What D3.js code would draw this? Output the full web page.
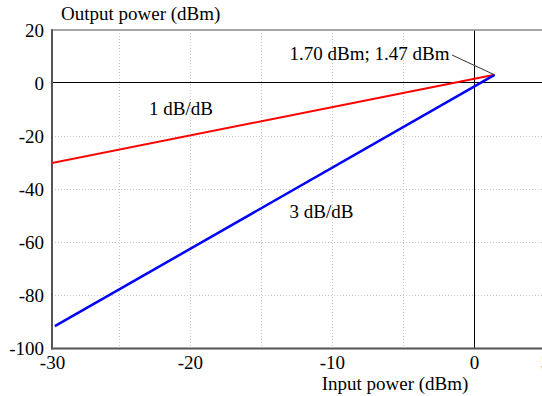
<!DOCTYPE html>
<html>
<head>
<meta charset="utf-8">
<script src="https://cdn.jsdelivr.net/npm/d3@7"></script>
<style>
  html, body { margin: 0; padding: 0; background: #fff; }
  svg { display: block; }
  text { font-family: "Liberation Serif", "Times New Roman", serif; fill: #000; }
</style>
</head>
<body>
<svg id="chart" width="542" height="396"></svg>
<script>
// ---- data ----
const xTicks = [-30, -20, -10, 0, 5];
const yTicks = [20, 0, -20, -40, -60, -80, -100];
const xGrid = [-25, -20, -15, -10, -5];
const yGrid = [-20, -40, -60, -80];
const fundamentalIn = [-30, 1.45];
const fundamentalOut = [-30.4, 3.1];
const thirdOrderIn = [-29.5, 1.45];
const thirdOrderOut = [-91.6, 3.1];
const interceptLabel = "1.70 dBm; 1.47 dBm";
const slopeLabels = ["1 dB/dB", "3 dB/dB"];

// ---- layout ----
const W = 542, H = 396;
const L = 52, R = 545, T = 30, B = 348.5;
const svg = d3.select("#chart");

const x = d3.scaleLinear().domain([-29.7, 5]).range([L, R]);
const y = d3.scaleLinear().domain([-100, 20]).range([B, T]);
const xTickScale = x.copy().clamp(true);
const crisp = v => Math.round(v) + 0.5;

svg.append("defs").append("clipPath").attr("id", "clip")
  .append("rect").attr("x", L).attr("y", T).attr("width", R - L).attr("height", B - T);

// grid
svg.append("g").selectAll("line").data(xGrid).join("line")
  .attr("x1", d => crisp(x(d))).attr("x2", d => crisp(x(d))).attr("y1", T).attr("y2", B)
  .attr("stroke", "#c8c8c8").attr("stroke-width", 1).attr("stroke-dasharray", "1,2");
svg.append("g").selectAll("line").data(yGrid).join("line")
  .attr("x1", L).attr("x2", R).attr("y1", d => crisp(y(d))).attr("y2", d => crisp(y(d)))
  .attr("stroke", "#c8c8c8").attr("stroke-width", 1).attr("stroke-dasharray", "1,2");

// zero lines
svg.append("line").attr("x1", L).attr("x2", R).attr("y1", crisp(y(0)) - 1).attr("y2", crisp(y(0)) - 1)
  .attr("stroke", "#000").attr("stroke-width", 1).attr("shape-rendering", "crispEdges");
svg.append("line").attr("x1", crisp(x(0))).attr("x2", crisp(x(0))).attr("y1", T).attr("y2", B)
  .attr("stroke", "#000").attr("stroke-width", 1).attr("shape-rendering", "crispEdges");

// frame
svg.append("line").attr("x1", L).attr("x2", R).attr("y1", T).attr("y2", T)
  .attr("stroke", "#8a8a8a").attr("stroke-width", 1.5);
svg.append("line").attr("x1", L).attr("x2", L).attr("y1", T - 0.75).attr("y2", B + 1)
  .attr("stroke", "#555").attr("stroke-width", 2);
svg.append("line").attr("x1", L - 1).attr("x2", R).attr("y1", B).attr("y2", B)
  .attr("stroke", "#555").attr("stroke-width", 2);

// axes (labels only)
const fmt = d => String(d);
const gx = svg.append("g").attr("transform", `translate(0,${B})`)
  .call(d3.axisBottom(xTickScale).tickValues(xTicks).tickSize(0).tickPadding(7).tickFormat(fmt));
gx.select(".domain").remove();
gx.selectAll("text").attr("font-size", 19).attr("font-family", "Liberation Serif, serif").attr("fill", "#000");

const gy = svg.append("g").attr("transform", `translate(${L},0)`)
  .call(d3.axisLeft(y).tickValues(yTicks).tickSize(0).tickPadding(8).tickFormat(fmt));
gy.select(".domain").remove();
gy.selectAll("text").attr("font-size", 19).attr("font-family", "Liberation Serif, serif").attr("fill", "#000");

// series lines
const line = d3.line().x(d => x(d[0])).y(d => y(d[1]));
const plot = svg.append("g").attr("clip-path", "url(#clip)");
plot.append("path").datum(d3.zip(fundamentalIn, fundamentalOut)).attr("d", line)
  .attr("fill", "none").attr("stroke", "#ff0000").attr("stroke-width", 2);
plot.append("path").datum(d3.zip(thirdOrderIn, thirdOrderOut)).attr("d", line)
  .attr("fill", "none").attr("stroke", "#0000ff").attr("stroke-width", 2.5);

// annotation leader
const ipx = x(fundamentalIn[1]), ipy = y(fundamentalOut[1]);
svg.append("line").attr("x1", 452).attr("y1", 55).attr("x2", ipx).attr("y2", ipy)
  .attr("stroke", "#333").attr("stroke-width", 1);
svg.append("text").attr("x", 449.5).attr("y", 59.5).attr("text-anchor", "end")
  .attr("font-size", 19).text(interceptLabel);

// slope labels
svg.append("text").attr("x", 181).attr("y", 114.5).attr("text-anchor", "middle")
  .attr("font-size", 19).text(slopeLabels[0]);
svg.append("text").attr("x", 321.5).attr("y", 217.5).attr("text-anchor", "middle")
  .attr("font-size", 19).text(slopeLabels[1]);

// axis titles
svg.append("text").attr("x", 61).attr("y", 19.5).attr("font-size", 19).text("Output power (dBm)");
svg.append("text").attr("x", 395).attr("y", 390).attr("text-anchor", "middle")
  .attr("font-size", 19).text("Input power (dBm)");
</script>
</body>
</html>
